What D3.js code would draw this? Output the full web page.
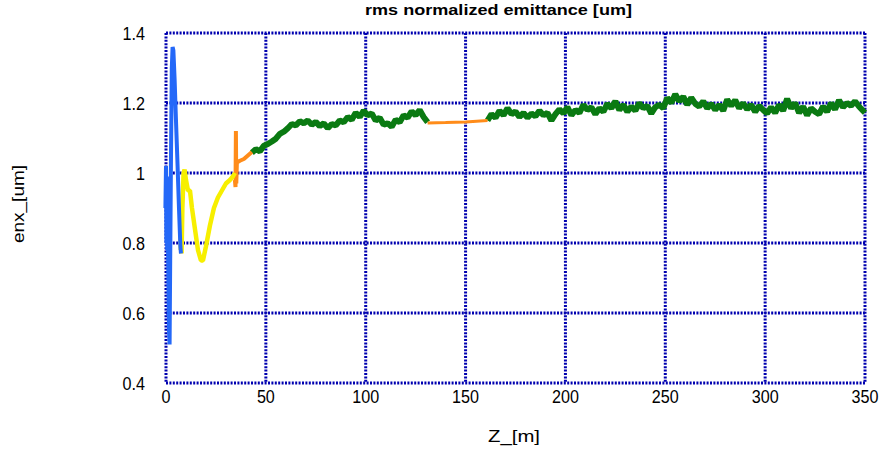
<!DOCTYPE html>
<html>
<head>
<meta charset="utf-8">
<script src="https://cdn.jsdelivr.net/npm/d3@7"></script>
<style>
  body { margin: 0; background: #fff; }
  text { font-family: "Liberation Sans", Arial, sans-serif; fill: #000; }
  .tick-lab { font-size: 19px; }
</style>
</head>
<body>
<svg id="chart" width="883" height="452"></svg>
<script>
// ticks
const xTicks = [0, 50, 100, 150, 200, 250, 300, 350]
const yTicks = [0.4, 0.6, 0.8, 1, 1.2, 1.4]

// blue section (gun / injector)
const blue = [[-0.3,0.9],[0,1.02],[0.2,0.8],[0.4,0.99],[0.6,0.78],[0.8,0.95],[1.0,0.8],[1.2,0.7],[1.5,0.55],[1.8,0.51],
  [2.1,0.75],[2.5,1.05],[2.9,1.3],[3.3,1.36],[3.7,1.35],[4.3,1.27],[5,1.15],[5.8,1.02],[6.5,0.9],[7.2,0.79],[7.5,0.77]]

// yellow section
const yellow = [[7.2,0.84],[7.4,0.78],[7.6,0.83],[7.8,0.77],[8.2,0.9],[8.8,1.0],[9.3,1.01],[10,0.98],[11,0.95],
  [12,0.95],[13,0.9],[14.5,0.84],[16,0.78],[17.5,0.75],[18.5,0.75],[20,0.79],[22,0.85],[24,0.9],[26,0.93],
  [28,0.95],[30,0.97],[32,0.98],[33.5,0.99],[34.5,1.0]]

// orange sections
const orange1 = [[34.5,0.98],[34.8,0.96],[35,1.12],[35.2,0.97],[35.5,1.03],[37,1.035],[39,1.04],[41,1.05],[43,1.06]]
const orange2 = [[131,1.143],[140,1.144],[150,1.146],[161,1.15]]

// green sections
const green1 = [[43,1.058],[45,1.068],[47,1.062],[49,1.078],[51,1.083],[53,1.09],[55,1.098],[57,1.112],[59,1.118],
  [61,1.128],[63,1.14],[65,1.136],[67,1.148],[69,1.142],[71,1.15],[73,1.138],[75,1.146],[77,1.134],[79,1.142],
  [81,1.128],[83,1.14],[85,1.136],[87,1.15],[89,1.145],[91,1.16],[93,1.152],[95,1.172],[97,1.16],[99,1.178],
  [101,1.165],[103,1.17],[105,1.15],[107,1.158],[109,1.138],[111,1.142],[113,1.132],[115,1.152],[117,1.145],
  [119,1.165],[121,1.158],[123,1.176],[125,1.165],[127,1.18],[129,1.16],[131,1.145]]
const green2 = [[161,1.15],[163,1.168],[165,1.158],[167,1.178],[169,1.165],[171,1.185],[173,1.168],[175,1.176],
  [177,1.16],[179,1.172],[181,1.158],[183,1.17],[185,1.162],[187,1.178],[189,1.165],[191,1.172],[193,1.15],
  [195,1.168],[197,1.182],[199,1.17],[201,1.188],[203,1.165],[205,1.18],[207,1.172],[209,1.195],[211,1.18],
  [213,1.188],[215,1.168],[217,1.185],[219,1.175],[221,1.198],[223,1.185],[225,1.205],[227,1.18],[229,1.195],
  [231,1.175],[233,1.19],[235,1.178],[237,1.2],[239,1.185],[241,1.192],[243,1.17],[245,1.188],[247,1.195],
  [249,1.185],[251,1.215],[253,1.2],[255,1.225],[257,1.205],[259,1.218],[261,1.195],[263,1.215],[265,1.198],
  [267,1.19],[269,1.205],[271,1.185],[273,1.198],[275,1.18],[277,1.195],[279,1.178],[281,1.21],[283,1.192],
  [285,1.208],[287,1.185],[289,1.2],[291,1.182],[293,1.195],[295,1.175],[297,1.192],[299,1.18],[301,1.17],
  [303,1.188],[305,1.172],[307,1.195],[309,1.178],[311,1.212],[313,1.185],[315,1.2],[317,1.172],[319,1.19],
  [321,1.165],[323,1.185],[325,1.175],[327,1.168],[329,1.19],[331,1.175],[333,1.2],[335,1.182],[337,1.208],
  [339,1.188],[341,1.2],[343,1.192],[345,1.205],[347,1.19],[349,1.178],[350,1.172]]

const plotLeft = 166, plotRight = 865, plotTop = 33, plotBottom = 383
const svg = d3.select("#chart")

const x = d3.scaleLinear().domain([0, 350]).range([plotLeft, plotRight])
const y = d3.scaleLinear().domain([0.4, 1.4]).range([plotBottom, plotTop])

const gridColor = "#0000b0"

// grid lines
svg.append("g").selectAll("line")
    .data(xTicks)
    .enter().append("line")
        .attr("x1", d => x(d)).attr("x2", d => x(d))
        .attr("y1", plotTop).attr("y2", plotBottom)
        .attr("stroke", gridColor).attr("stroke-width", 3)
        .attr("stroke-dasharray", "2,1.4")

svg.append("g").selectAll("line")
    .data(yTicks)
    .enter().append("line")
        .attr("x1", plotLeft).attr("x2", plotRight)
        .attr("y1", d => y(d)).attr("y2", d => y(d))
        .attr("stroke", gridColor).attr("stroke-width", 3)
        .attr("stroke-dasharray", "2,1.4")

// curves
const line = d3.line().x(d => x(d[0])).y(d => y(d[1]))
const series = [
    {data: green1, color: "#0a7a12", w: 6},
    {data: green2, color: "#0a7a12", w: 6},
    {data: orange2, color: "#ff8c1a", w: 3},
    {data: orange1, color: "#ff8c1a", w: 4},
    {data: yellow, color: "#f7ef00", w: 4.5},
    {data: blue, color: "#2468f8", w: 4}
]
svg.append("g").selectAll("path")
    .data(series)
    .enter().append("path")
        .attr("d", d => line(d.data))
        .attr("fill", "none")
        .attr("stroke", d => d.color)
        .attr("stroke-width", d => d.w)
        .attr("stroke-linejoin", "bevel")

// tick labels, slightly condensed
svg.append("g").selectAll("text")
    .data(xTicks)
    .enter().append("text")
        .attr("class", "tick-lab")
        .attr("transform", d => `translate(${x(d)},${plotBottom + 20}) scale(0.85,1)`)
        .attr("text-anchor", "middle")
        .text(d => d)

svg.append("g").selectAll("text")
    .data(yTicks)
    .enter().append("text")
        .attr("class", "tick-lab")
        .attr("transform", d => `translate(${plotLeft - 21},${y(d) + 7}) scale(0.85,1)`)
        .attr("text-anchor", "end")
        .text(d => d)

// titles
svg.append("text")
    .attr("x", 365).attr("y", 15)
    .attr("font-size", 15).attr("font-weight", "bold")
    .attr("textLength", 267).attr("lengthAdjust", "spacingAndGlyphs")
    .text("rms normalized emittance [um]")

svg.append("text")
    .attr("x", 488).attr("y", 442)
    .attr("font-size", 17)
    .attr("textLength", 52).attr("lengthAdjust", "spacingAndGlyphs")
    .text("Z_[m]")

svg.append("text")
    .attr("transform", "translate(24,243) rotate(-90)")
    .attr("font-size", 17)
    .attr("textLength", 78).attr("lengthAdjust", "spacingAndGlyphs")
    .text("enx_[um]")
</script>
</body>
</html>
